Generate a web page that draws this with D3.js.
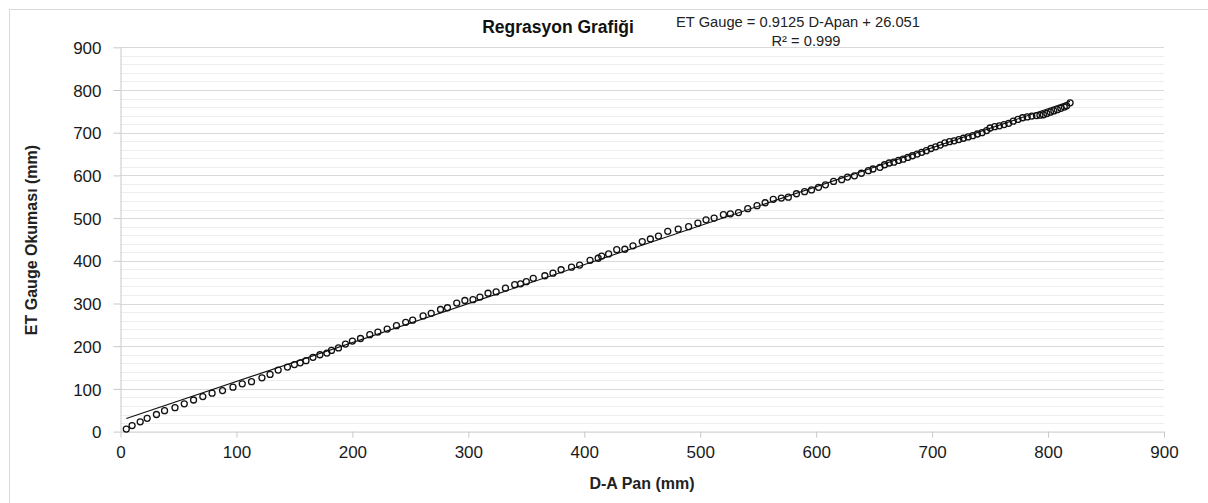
<!DOCTYPE html>
<html>
<head>
<meta charset="utf-8">
<script src="https://cdnjs.cloudflare.com/ajax/libs/d3/7.8.5/d3.min.js"></script>
<style>
  body { margin: 0; background: #fff; }
  svg { display: block; font-family: "Liberation Sans", Arial, sans-serif; }
  .tick text { fill: #1a1a1a; font-size: 17px; }
  .title { font-weight: bold; font-size: 17.5px; fill: #111; }
  .eq { font-size: 14.7px; fill: #222; }
  .axis-title { font-weight: bold; font-size: 16px; fill: #222; }
</style>
</head>
<body>
<svg width="1208" height="503"></svg>
<script>
// D-A Pan (mm) readings
var dApan = [5, 10, 17, 23, 31, 38, 47, 55, 63, 71, 79, 88, 97, 105, 113, 122, 129, 136, 144, 150, 155,
  160, 166, 172, 178, 182, 188, 194, 200, 207, 215, 222, 230, 238, 246, 252, 261, 268, 276, 282, 290, 297, 304, 310, 317, 324, 332, 340,
  345, 350, 356, 366, 373, 380, 389, 396, 405, 412, 415, 421, 428, 435, 442, 450, 457, 464, 472, 481, 490, 498, 505, 512,
  520, 526, 533, 541, 549, 556, 563, 570, 576, 583, 590, 596, 602, 608, 615, 622, 627, 633, 639, 645, 649, 655, 659, 663,
  667, 671, 675, 679, 683, 687, 691, 695, 699, 703, 707, 711, 715, 719, 723, 727, 731, 735, 739, 743, 747, 750, 754, 758,
  762, 766, 770, 774, 778, 782, 786, 790, 793, 796, 799, 802, 805, 808, 811, 814, 816, 819];

// ET Gauge okumasi (mm)
var etGauge = [6, 14, 23, 31, 40, 49, 56, 65, 74, 82, 90, 96, 104, 112, 117, 126, 134, 144, 151, 157, 161,
  166, 174, 180, 184, 190, 196, 205, 212, 218, 227, 233, 240, 248, 256, 261, 271, 277, 286, 290, 301, 307, 309, 315, 324, 327, 336, 344,
  346, 351, 359, 365, 371, 379, 385, 390, 401, 406, 411, 416, 426, 427, 435, 445, 451, 458, 469, 474, 480, 488, 496, 500,
  508, 510, 513, 522, 529, 536, 544, 547, 549, 557, 562, 566, 572, 578, 586, 590, 596, 599, 605, 611, 615, 619, 625, 629,
  631, 635, 638, 642, 646, 650, 654, 658, 663, 667, 671, 676, 679, 681, 684, 687, 690, 693, 697, 700, 705, 711, 714, 716,
  719, 722, 727, 731, 735, 737, 739, 740, 741, 742, 745, 748, 751, 754, 757, 760, 763, 770];

// trendline as printed on the chart
var slope = 0.9125,
    intercept = 26.051;
var eqLabel = "ET Gauge = 0.9125 D-Apan + 26.051",
    r2Label = "R\u00b2 = 0.999";

var axisTicks = [0, 100, 200, 300, 400, 500, 600, 700, 800, 900];

var svg = d3.select("svg"),
    width = +svg.attr("width"),
    height = +svg.attr("height");

var plotLeft = 120.5, plotRight = 1164, plotTop = 47.3, plotBottom = 431.6;

var x = d3.scaleLinear().domain([0, 900]).range([plotLeft, plotRight]);
var y = d3.scaleLinear().domain([0, 900]).range([plotBottom, plotTop]);

// outer chart border (only top/left visible in the crop)
svg.append("rect")
    .attr("x", 9.5).attr("y", 9.5)
    .attr("width", width + 20).attr("height", height + 20)
    .attr("fill", "none")
    .attr("stroke", "#d9d9d9");

// minor + major gridlines
var grid = svg.append("g");
grid.selectAll(".minor")
    .data(d3.range(20, 900, 20).filter(function(v) { return v % 100 != 0; }))
    .enter().append("line")
    .attr("x1", plotLeft).attr("x2", plotRight)
    .attr("y1", function(d) { return Math.round(y(d)) + 0.5; })
    .attr("y2", function(d) { return Math.round(y(d)) + 0.5; })
    .attr("stroke", "#eeeeee");
grid.selectAll(".major")
    .data(axisTicks.slice(1))
    .enter().append("line")
    .attr("x1", plotLeft).attr("x2", plotRight)
    .attr("y1", function(d) { return Math.round(y(d)) + 0.5; })
    .attr("y2", function(d) { return Math.round(y(d)) + 0.5; })
    .attr("stroke", "#d9d9d9");

// axes
var xAxis = svg.append("g")
    .attr("transform", "translate(0," + plotBottom + ")")
    .call(d3.axisBottom(x).tickValues(axisTicks).tickSize(6).tickPadding(5));
var yAxis = svg.append("g")
    .attr("transform", "translate(" + plotLeft + ",0)")
    .call(d3.axisLeft(y).tickValues(axisTicks).tickSize(7).tickPadding(12));

svg.selectAll(".domain").attr("stroke", "#c8c8c8");
svg.selectAll(".tick line").attr("stroke", "#c8c8c8");
xAxis.selectAll(".domain").attr("d", "M" + plotLeft + ",0.5H" + plotRight);
yAxis.selectAll(".domain").attr("d", "M0.5," + plotTop + "V" + plotBottom);
xAxis.selectAll(".tick text").attr("dy", "0.9em");
yAxis.selectAll(".tick text").attr("dy", "0.36em");

// data points
var pts = dApan.map(function(d, i) { return [d, etGauge[i]]; });

svg.append("g")
    .selectAll("circle")
    .data(pts)
    .enter().append("circle")
    .attr("cx", function(d) { return x(d[0]); })
    .attr("cy", function(d) { return y(d[1]); })
    .attr("r", 3)
    .attr("fill", "none")
    .attr("stroke", "#111")
    .attr("stroke-width", 1.3);

// linear trendline
var x0 = d3.min(dApan), x1 = d3.max(dApan);
svg.append("line")
    .attr("x1", x(x0)).attr("y1", y(slope * x0 + intercept))
    .attr("x2", x(x1)).attr("y2", y(slope * x1 + intercept))
    .attr("stroke", "#111")
    .attr("stroke-width", 1.1);

// titles
svg.append("text")
    .attr("class", "title")
    .attr("x", 558).attr("y", 33)
    .attr("text-anchor", "middle")
    .text("Regrasyon Grafiği");

svg.append("text")
    .attr("class", "eq")
    .attr("x", 798).attr("y", 27)
    .attr("text-anchor", "middle")
    .text(eqLabel);
svg.append("text")
    .attr("class", "eq")
    .attr("x", 806).attr("y", 46)
    .attr("text-anchor", "middle")
    .text(r2Label);

svg.append("text")
    .attr("class", "axis-title")
    .attr("x", 642).attr("y", 489)
    .attr("text-anchor", "middle")
    .text("D-A Pan (mm)");

svg.append("text")
    .attr("class", "axis-title")
    .attr("transform", "translate(37,240) rotate(-90)")
    .attr("text-anchor", "middle")
    .text("ET Gauge Okuması (mm)");
</script>
</body>
</html>
